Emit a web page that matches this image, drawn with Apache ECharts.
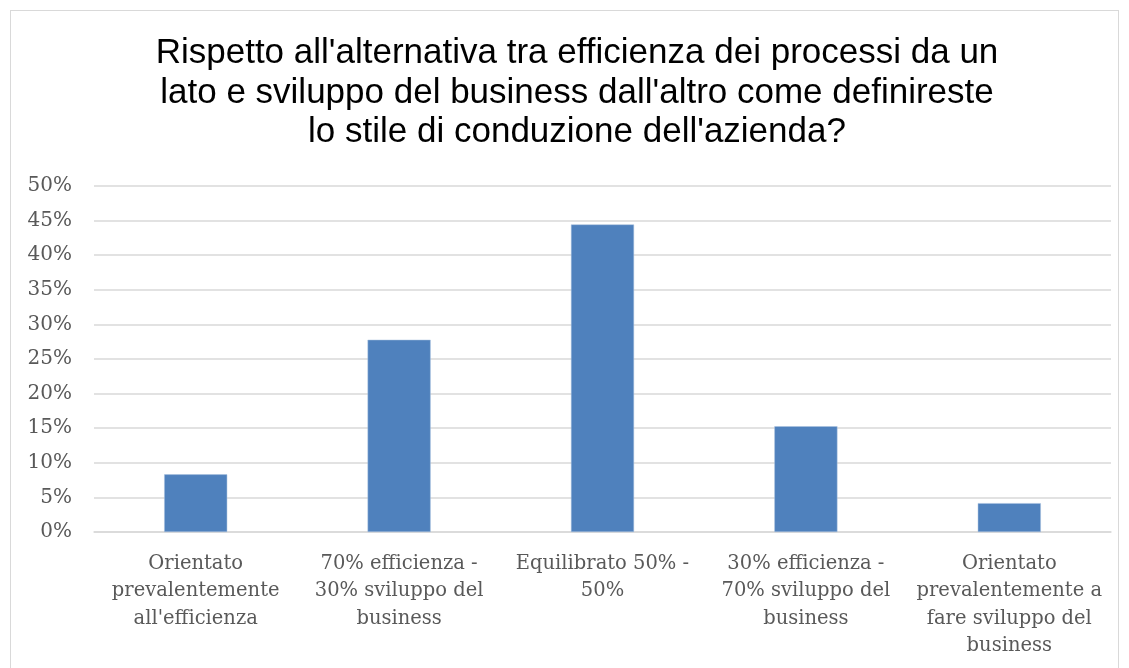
<!DOCTYPE html>
<html>
<head>
<meta charset="utf-8">
<script src="https://cdn.jsdelivr.net/npm/echarts@6/dist/echarts.min.js"></script>
<style>
  html, body { margin: 0; padding: 0; background: #fff; }
  #frame { position: absolute; left: 10px; top: 10px; width: 1109px; height: 670px; border: 1px solid #d9d9d9; box-sizing: border-box; }
  #chart { position: absolute; left: 0; top: 0; width: 1129px; height: 668px; }
</style>
</head>
<body>
<div id="frame"></div>
<div id="chart"></div>
<script>
const titleText = "Rispetto all'alternativa tra efficienza dei processi da un\nlato e sviluppo del business dall'altro come definireste\nlo stile di conduzione dell'azienda?"
const categories = [
  'Orientato\nprevalentemente\nall\'efficienza',
  '70% efficienza -\n30% sviluppo del\nbusiness',
  'Equilibrato 50% -\n50%',
  '30% efficienza -\n70% sviluppo del\nbusiness',
  'Orientato\nprevalentemente a\nfare sviluppo del\nbusiness'
]
const percentages = [8.33, 27.78, 44.44, 15.28, 4.17]
const yTicks = [0, 5, 10, 15, 20, 25, 30, 35, 40, 45, 50]

let myChart = echarts.init(document.getElementById('chart'))
let option = {
  animation: false,
  title: {
    text: titleText,
    left: 572,
    top: 29,
    textAlign: 'center',
    textStyle: {
      fontFamily: 'Liberation Sans',
      fontSize: 35,
      fontWeight: 'normal',
      color: '#000',
      lineHeight: 39.5
    }
  },
  grid: {
    left: 94,
    right: 18,
    top: 186,
    bottom: 136
  },
  xAxis: {
    type: 'category',
    data: categories,
    axisTick: { show: false },
    axisLine: { lineStyle: { color: '#d9d9d9', width: 1.5 } },
    axisLabel: {
      interval: 0,
      margin: 18,
      fontFamily: 'DejaVu Serif',
      fontSize: 19.5,
      lineHeight: 27.5,
      color: '#595959'
    }
  },
  yAxis: {
    type: 'value',
    min: yTicks[0],
    max: yTicks[yTicks.length - 1],
    interval: 5,
    axisLine: { show: false },
    axisTick: { show: false },
    splitLine: { lineStyle: { color: '#d9d9d9', width: 1.5 } },
    axisLabel: {
      margin: 22,
      fontFamily: 'DejaVu Serif',
      fontSize: 20,
      color: '#595959',
      formatter: function (v) { return v + '%' }
    }
  },
  series: [{
    type: 'bar',
    data: percentages,
    barWidth: '31%',
    itemStyle: { color: '#4f81bd', borderColor: '#a9c0de', borderWidth: 0.5 }
  }]
}
myChart.setOption(option, true)
</script>
</body>
</html>
